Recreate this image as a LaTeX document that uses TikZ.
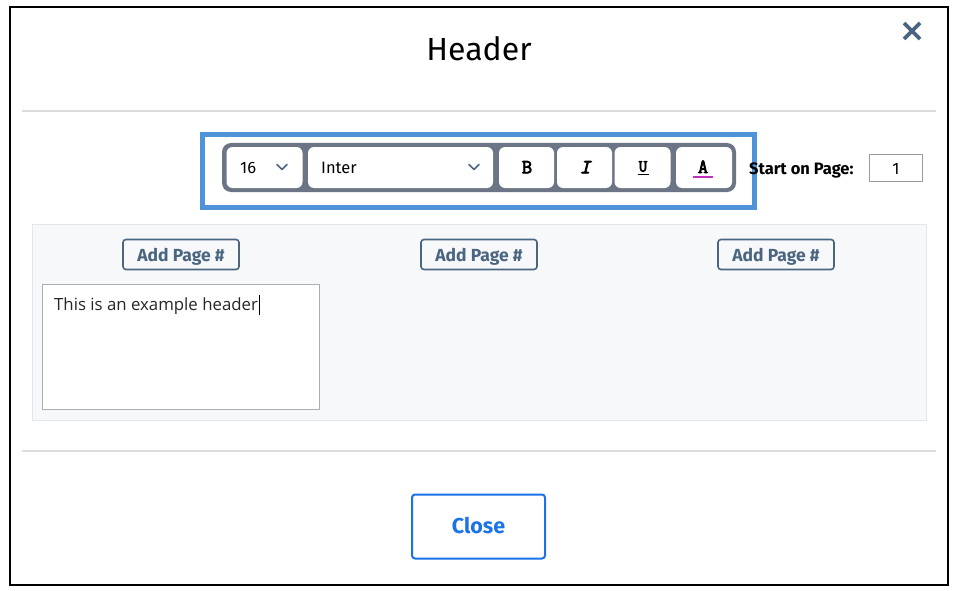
\documentclass[tikz,border=0pt]{standalone}
\usepackage{fontspec}
\setmainfont{Fira Sans}
\newfontfamily\bodyfont{Open Sans}
\newfontfamily\codefont[FakeBold=3.5]{Latin Modern Mono}
\definecolor{slate}{HTML}{4A6580}
\definecolor{hiblue}{HTML}{4F93D8}
\definecolor{tbgray}{HTML}{6B7585}
\definecolor{sepgray}{HTML}{DCDCDC}
\definecolor{panelbg}{HTML}{F7F8FA}
\definecolor{panelline}{HTML}{E3E6EA}
\definecolor{arealine}{HTML}{A9AEB4}
\definecolor{closeblue}{HTML}{1A73E8}
\definecolor{magentaline}{HTML}{C030C0}
\tikzset{
  tbbtn/.style={fill=white, rounded corners=6pt, minimum height=41pt, inner sep=0pt},
  fmtchar/.style={anchor=base, font=\codefont\fontsize{20}{22}\selectfont, inner sep=0pt},
  addbtn/.style={draw=slate, line width=1.6pt, rounded corners=3pt, minimum width=116pt, minimum height=30pt, inner sep=0pt, text height=13pt, text depth=0pt, text=slate, font=\bfseries\fontsize{17.5}{20}\selectfont},
  sepline/.style={draw=sepgray, line width=1.2pt},
  chev/.style={draw=slate, line width=1.5pt, line cap=round, line join=round},
}
\begin{document}
\begin{tikzpicture}[x=1pt,y=-1pt]
\useasboundingbox (0,0) rectangle (958,591);
\fill[white] (0,0) rectangle (958,591);
\draw[line width=2pt] (10,7) rectangle (948,585);

% title and close icon
\node[inner sep=0pt, font=\fontsize{32}{38}\selectfont] (title) at (479,49) {Header};
\coordinate (xa) at (904,23); \coordinate (xb) at (920,39);
\coordinate (xc) at (920,23); \coordinate (xd) at (904,39);
\draw[slate, line width=3.6pt] (xa) -- (xb) (xc) -- (xd);

% separators
\coordinate (s1a) at (22,111); \coordinate (s1b) at (936,111);
\coordinate (s2a) at (22,451); \coordinate (s2b) at (936,451);
\draw[sepline] (s1a) -- (s1b);
\draw[sepline] (s2a) -- (s2b);

% toolbar
\node[fill=tbgray, rounded corners=9pt, minimum width=514pt, minimum height=49pt, inner sep=0pt] (toolbar) at (479,167.5) {};
\node[tbbtn, minimum width=76pt] (size) at (264.5,167.5) {};
\node[tbbtn, minimum width=185pt] (family) at (400.5,167.5) {};
\node[tbbtn, minimum width=55pt] (bold) at (526.5,167.5) {};
\node[tbbtn, minimum width=55pt] (ital) at (584.5,167.5) {};
\node[tbbtn, minimum width=56pt] (under) at (642.5,167.5) {};
\node[tbbtn, minimum width=56pt] (color) at (704,167.5) {};

\node[anchor=base west, inner sep=0pt, font=\fontsize{16.5}{19}\selectfont] (sizetxt) at (240,173.3) {16};
\node[anchor=base west, inner sep=0pt, font=\fontsize{16.5}{19}\selectfont] (famtxt) at (321,173.3) {Inter};
\coordinate (c1a) at (277,164.5); \coordinate (c1b) at (282,169.5); \coordinate (c1c) at (287,164.5);
\draw[chev] (c1a) -- (c1b) -- (c1c);
\coordinate (c2a) at (469,164.5); \coordinate (c2b) at (474,169.5); \coordinate (c2c) at (479,164.5);
\draw[chev] (c2a) -- (c2b) -- (c2c);

\node[fmtchar] (btxt) at (527,173.3) {B};
\node[fmtchar, font=\codefont\itshape\fontsize{20}{22}\selectfont] (itxt) at (585,173.3) {I};
\node[fmtchar, font=\codefont\fontsize{17}{19}\selectfont] (utxt) at (643,171.6) {U};
\coordinate (ua) at (637.5,174.6); \coordinate (ub) at (648.5,174.6);
\draw[line width=1.3pt] (ua) -- (ub);
\node[fmtchar] (atxt) at (703,173) {A};
\coordinate (aa) at (693,177.3); \coordinate (ab) at (713,177.3);
\draw[magentaline, line width=1.8pt] (aa) -- (ab);

% highlight
\node[draw=hiblue, line width=5pt, minimum width=552pt, minimum height=73pt, inner sep=0pt] (highlight) at (478.5,171) {};

% start on page
\node[anchor=base west, inner sep=0pt, font=\bfseries\fontsize{16.5}{19}\selectfont] (startlbl) at (749,174) {Start on Page:};
\node[draw=gray!80, fill=white, line width=1pt, minimum width=53pt, minimum height=27pt, inner sep=0pt] (startbox) at (895.5,167.5) {};
\node[anchor=base, inner sep=0pt, font=\fontsize{16.5}{19}\selectfont] (startnum) at (896,174) {1};

% panel
\node[fill=panelbg, draw=panelline, line width=1pt, minimum width=894pt, minimum height=196pt, inner sep=0pt] (panel) at (479,322) {};
\node[addbtn] (add1) at (181,254.5) {Add Page \#};
\node[addbtn] (add2) at (479,254.5) {Add Page \#};
\node[addbtn] (add3) at (776,254.5) {Add Page \#};
\node[fill=white, draw=arealine, line width=1pt, minimum width=277pt, minimum height=125pt, inner sep=0pt] (area) at (180.5,346.5) {};
\node[anchor=base west, inner sep=0pt, text=black!85, font=\bodyfont\fontsize{16.8}{19}\selectfont] (areatxt) at (54,310.7) {This is an example header};
\coordinate (cura) at ([xshift=1pt]areatxt.east |- 0,295);
\coordinate (curb) at ([xshift=1pt]areatxt.east |- 0,315);
\draw[line width=1.2pt] (cura) -- (curb);

% close button
\node[draw=closeblue, line width=2pt, rounded corners=3pt, minimum width=133pt, minimum height=64pt, inner sep=0pt] (closebtn) at (478.5,526.5) {};
\node[anchor=base, inner sep=0pt, text=closeblue, font=\bfseries\fontsize{21.5}{24}\selectfont] (closetxt) at (478.5,533.3) {Close};
\end{tikzpicture}
\end{document}
